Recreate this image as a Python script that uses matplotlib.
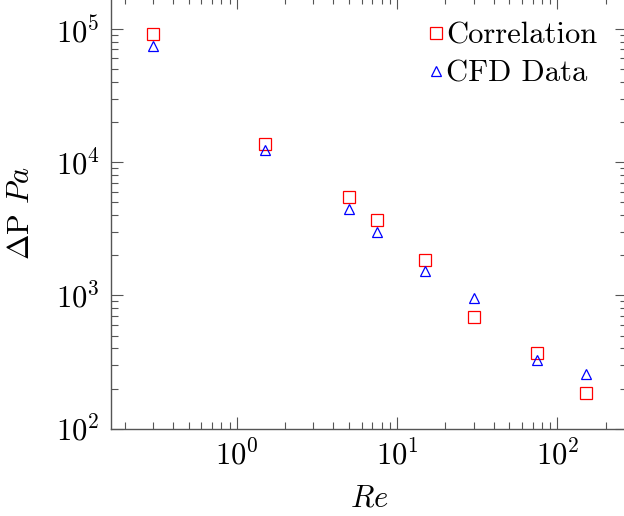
import numpy as np
import matplotlib
matplotlib.use('Agg')
import matplotlib.pyplot as plt
from matplotlib.ticker import LogLocator, NullFormatter

#%% data
re_vals = [0.3, 1.5, 5, 7.5, 15, 30, 75, 150]
dp_correlation = [91400, 13680, 5500, 3680, 1845, 685, 370, 186]
dp_cfd = [74700, 12330, 4450, 3005, 1517, 961, 330, 259]

#%% style
plt.rcParams['font.family'] = 'serif'
plt.rcParams['font.serif'] = ['cmr10', 'DejaVu Serif']
plt.rcParams['mathtext.fontset'] = 'cm'
plt.rcParams['axes.formatter.use_mathtext'] = True
plt.rcParams['font.size'] = 22

axis_color = '#555555'

fig = plt.figure(figsize=(6.24, 5.16), dpi=100)
ax = fig.add_axes([0.1774, 0.1692, 0.8276, 0.8358])

ax.plot(re_vals, dp_correlation, linestyle='none', marker='s', markersize=8.5,
        markerfacecolor='none', markeredgecolor='red', markeredgewidth=0.9,
        label='Correlation')
ax.plot(re_vals, dp_cfd, linestyle='none', marker='^', markersize=7,
        markerfacecolor='none', markeredgecolor='blue', markeredgewidth=0.9,
        label='CFD Data')

ax.set_xscale('log')
ax.set_yscale('log')
ax.set_xlim(0.163, 272)
ax.set_ylim(100, 1.72e5)

ax.xaxis.set_major_locator(LogLocator(base=10, numticks=10))
ax.yaxis.set_major_locator(LogLocator(base=10, numticks=10))
ax.xaxis.set_minor_locator(LogLocator(base=10, subs=np.arange(2, 10), numticks=20))
ax.yaxis.set_minor_locator(LogLocator(base=10, subs=np.arange(2, 10), numticks=20))
ax.xaxis.set_minor_formatter(NullFormatter())
ax.yaxis.set_minor_formatter(NullFormatter())

ax.tick_params(which='both', direction='in', top=True, right=True,
               color=axis_color, width=0.8)
ax.tick_params(which='major', length=8.5, pad=8)
ax.tick_params(which='minor', length=5)
for s in ax.spines.values():
    s.set_color(axis_color)
    s.set_linewidth(1.0)

ax.set_xlabel('$Re$', labelpad=10)
ax.set_ylabel(r'$\Delta$P $Pa$', labelpad=15)

ax.legend(loc='upper right', frameon=False, handlelength=0.4, handletextpad=0.15,
          borderaxespad=0.4, labelspacing=0.35, numpoints=1,
          bbox_to_anchor=(0.99, 1.0))

plt.savefig('out.png', dpi=100)
